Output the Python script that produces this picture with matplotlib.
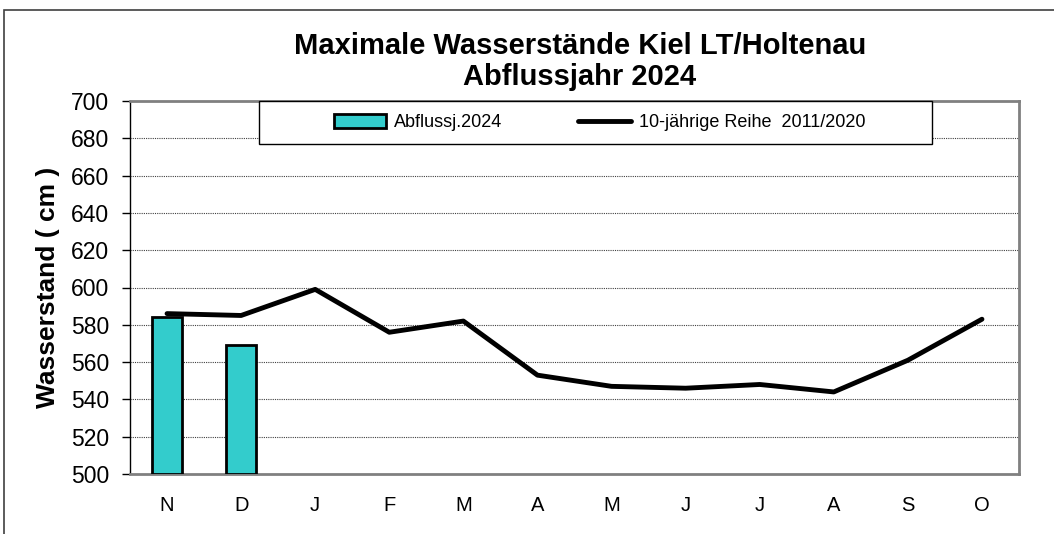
import numpy as np
import matplotlib
matplotlib.use("Agg")
import matplotlib.pyplot as plt
from matplotlib.patches import Rectangle

plt.rcParams['font.family'] = ['Liberation Sans', 'DejaVu Sans']

# Monate des Abflussjahres
months = ["N", "D", "J", "F", "M", "A", "M", "J", "J", "A", "S", "O"]
# Abflussjahr 2024 (bisher nur Nov, Dez)
bars_2024 = [584, 569]
# 10-jaehrige Reihe 2011/2020
mean_10y = [586, 585, 599, 576, 582, 553, 547, 546, 548, 544, 561, 583]

fig = plt.figure(figsize=(10.54, 5.34), dpi=100)
ax = fig.add_axes([130/1054, 1 - 474/534, 889/1054, 373/534])

x = np.arange(len(months)) + 0.5
bar = ax.bar(x[:len(bars_2024)], np.array(bars_2024) - 500, bottom=500, width=0.4,
             color="#33CCCC", edgecolor="black", linewidth=2, zorder=3)
line, = ax.plot(x, mean_10y, color="black", linewidth=3.5, solid_capstyle="round", zorder=4)

ax.set_xlim(0, 12)
ax.set_ylim(500, 700)
ax.set_yticks(np.arange(500, 701, 20))
ax.set_xticks(x)
ax.set_xticklabels(months)
ax.tick_params(axis="x", length=0, pad=16, labelsize=14.5)
ax.tick_params(axis="y", length=6, width=1, labelsize=16.5, direction="out", pad=9)

# gepunktete Gitterlinien
for yv in range(520, 700, 20):
    ax.axhline(yv, color="#404040", linestyle=(0, (1, 1)), linewidth=0.8, zorder=1)

for side in ["top", "right", "bottom"]:
    ax.spines[side].set_color("#808080")
    ax.spines[side].set_linewidth(2)
ax.spines["left"].set_color("black")
ax.spines["left"].set_linewidth(1)

ax.set_ylabel("Wasserstand ( cm )", fontsize=19, fontweight="bold", labelpad=8)

fig.text(580 / 1054, 1 - 46/534, "Maximale Wasserstände Kiel LT/Holtenau",
         ha="center", va="center", fontsize=21, fontweight="bold")
fig.text(580 / 1054, 1 - 77/534, "Abflussjahr 2024",
         ha="center", va="center", fontsize=21, fontweight="bold")

# Legendenkasten
bx0 = (259 - 130) / 889
bw = (932 - 259) / 889
by0 = (474 - 144) / 373
ax.add_patch(Rectangle((bx0, by0), bw, 1 - by0, transform=ax.transAxes,
                       facecolor="white", edgecolor="black", linewidth=1, zorder=5,
                       clip_on=False))
leg = ax.legend([bar, line], ["Abflussj.2024", "10-jährige Reihe  2011/2020"],
                loc="center", bbox_to_anchor=(bx0 + bw / 2 + 4 / 889, by0 + (1 - by0) / 2),
                ncol=2, frameon=False, fontsize=13, handlelength=2.9,
                handleheight=0.8, handletextpad=0.45, columnspacing=4.2)
leg.set_zorder(6)

# aeusserer Rahmen
fig.patches.append(Rectangle((4/1054, -0.05), 1.1, 1 - 10/534 + 0.05,
                             transform=fig.transFigure, fill=False,
                             edgecolor="#404040", linewidth=1.2))

fig.savefig("out.png", dpi=100)
